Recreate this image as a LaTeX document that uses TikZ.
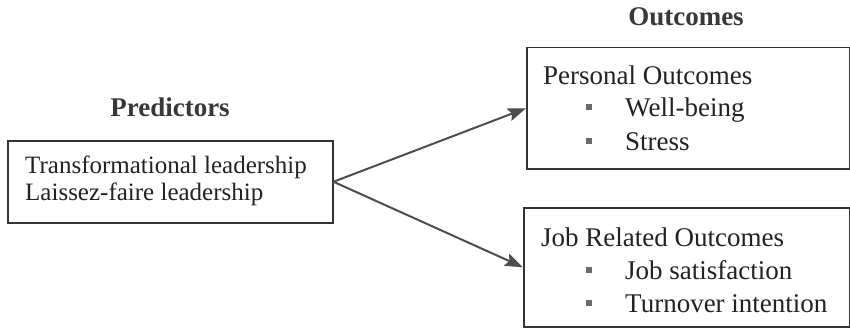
\documentclass[tikz,border=0pt]{standalone}
\usepackage{fontspec}
\setmainfont{Liberation Serif}
\usetikzlibrary{arrows.meta}
\definecolor{ink}{HTML}{222222}
\definecolor{linegray}{HTML}{333333}
\definecolor{arrowgray}{HTML}{4D4D4D}
\definecolor{bulletgray}{HTML}{6A6A6A}
\begin{document}
\begin{tikzpicture}[x=1pt,y=-1pt,
  box/.style={draw=linegray,line width=1.5pt,rectangle,inner sep=0pt,anchor=north west},
  txt/.style={anchor=base west,inner sep=0pt,text=ink,font=\fontsize{27}{30}\selectfont},
  smalltxt/.style={txt,font=\fontsize{25}{28}\selectfont},
  title/.style={anchor=base,inner sep=0pt,text=ink!90!white,font=\fontsize{27}{30}\selectfont\bfseries},
  bullet/.style={rectangle,fill=bulletgray,minimum size=6pt,inner sep=0pt},
  link/.style={draw=arrowgray,line width=2pt,-{Stealth[length=18pt,width=13pt,inset=3pt]}}]
\useasboundingbox (0,0) rectangle (850,329);

% headings
\node[title] (predTitle) at (170,116) {Predictors};
\node[title] (outTitle) at (686,26) {Outcomes};

% predictor box
\node[box,minimum width=325pt,minimum height=82pt] (pred) at (7,140) {};
\node[smalltxt] (tl) at (25,173) {Transformational leadership};
\node[smalltxt] (lf) at (25,200) {Laissez-faire leadership};

% personal outcomes box
\node[box,minimum width=323pt,minimum height=121pt] (pers) at (526,47) {};
\node[txt] (persHead) at (543,84) {Personal Outcomes};
\node[bullet] (b1) at (589,107) {};
\node[txt] (wb) at (625,116) {Well-being};
\node[bullet] (b2) at (589,141) {};
\node[txt] (st) at (625,150) {Stress};

% job related outcomes box
\node[box,minimum width=326pt,minimum height=119pt] (job) at (523,207) {};
\node[txt] (jobHead) at (541,246) {Job Related Outcomes};
\node[bullet] (b3) at (589,270) {};
\node[txt] (js) at (625,279) {Job satisfaction};
\node[bullet] (b4) at (589,303) {};
\node[txt] (ti) at (625,312) {Turnover intention};

% connectors
\draw[link] (pred.east) -- (pers.west);
\draw[link] (pred.east) -- (job.west);
\end{tikzpicture}
\end{document}
